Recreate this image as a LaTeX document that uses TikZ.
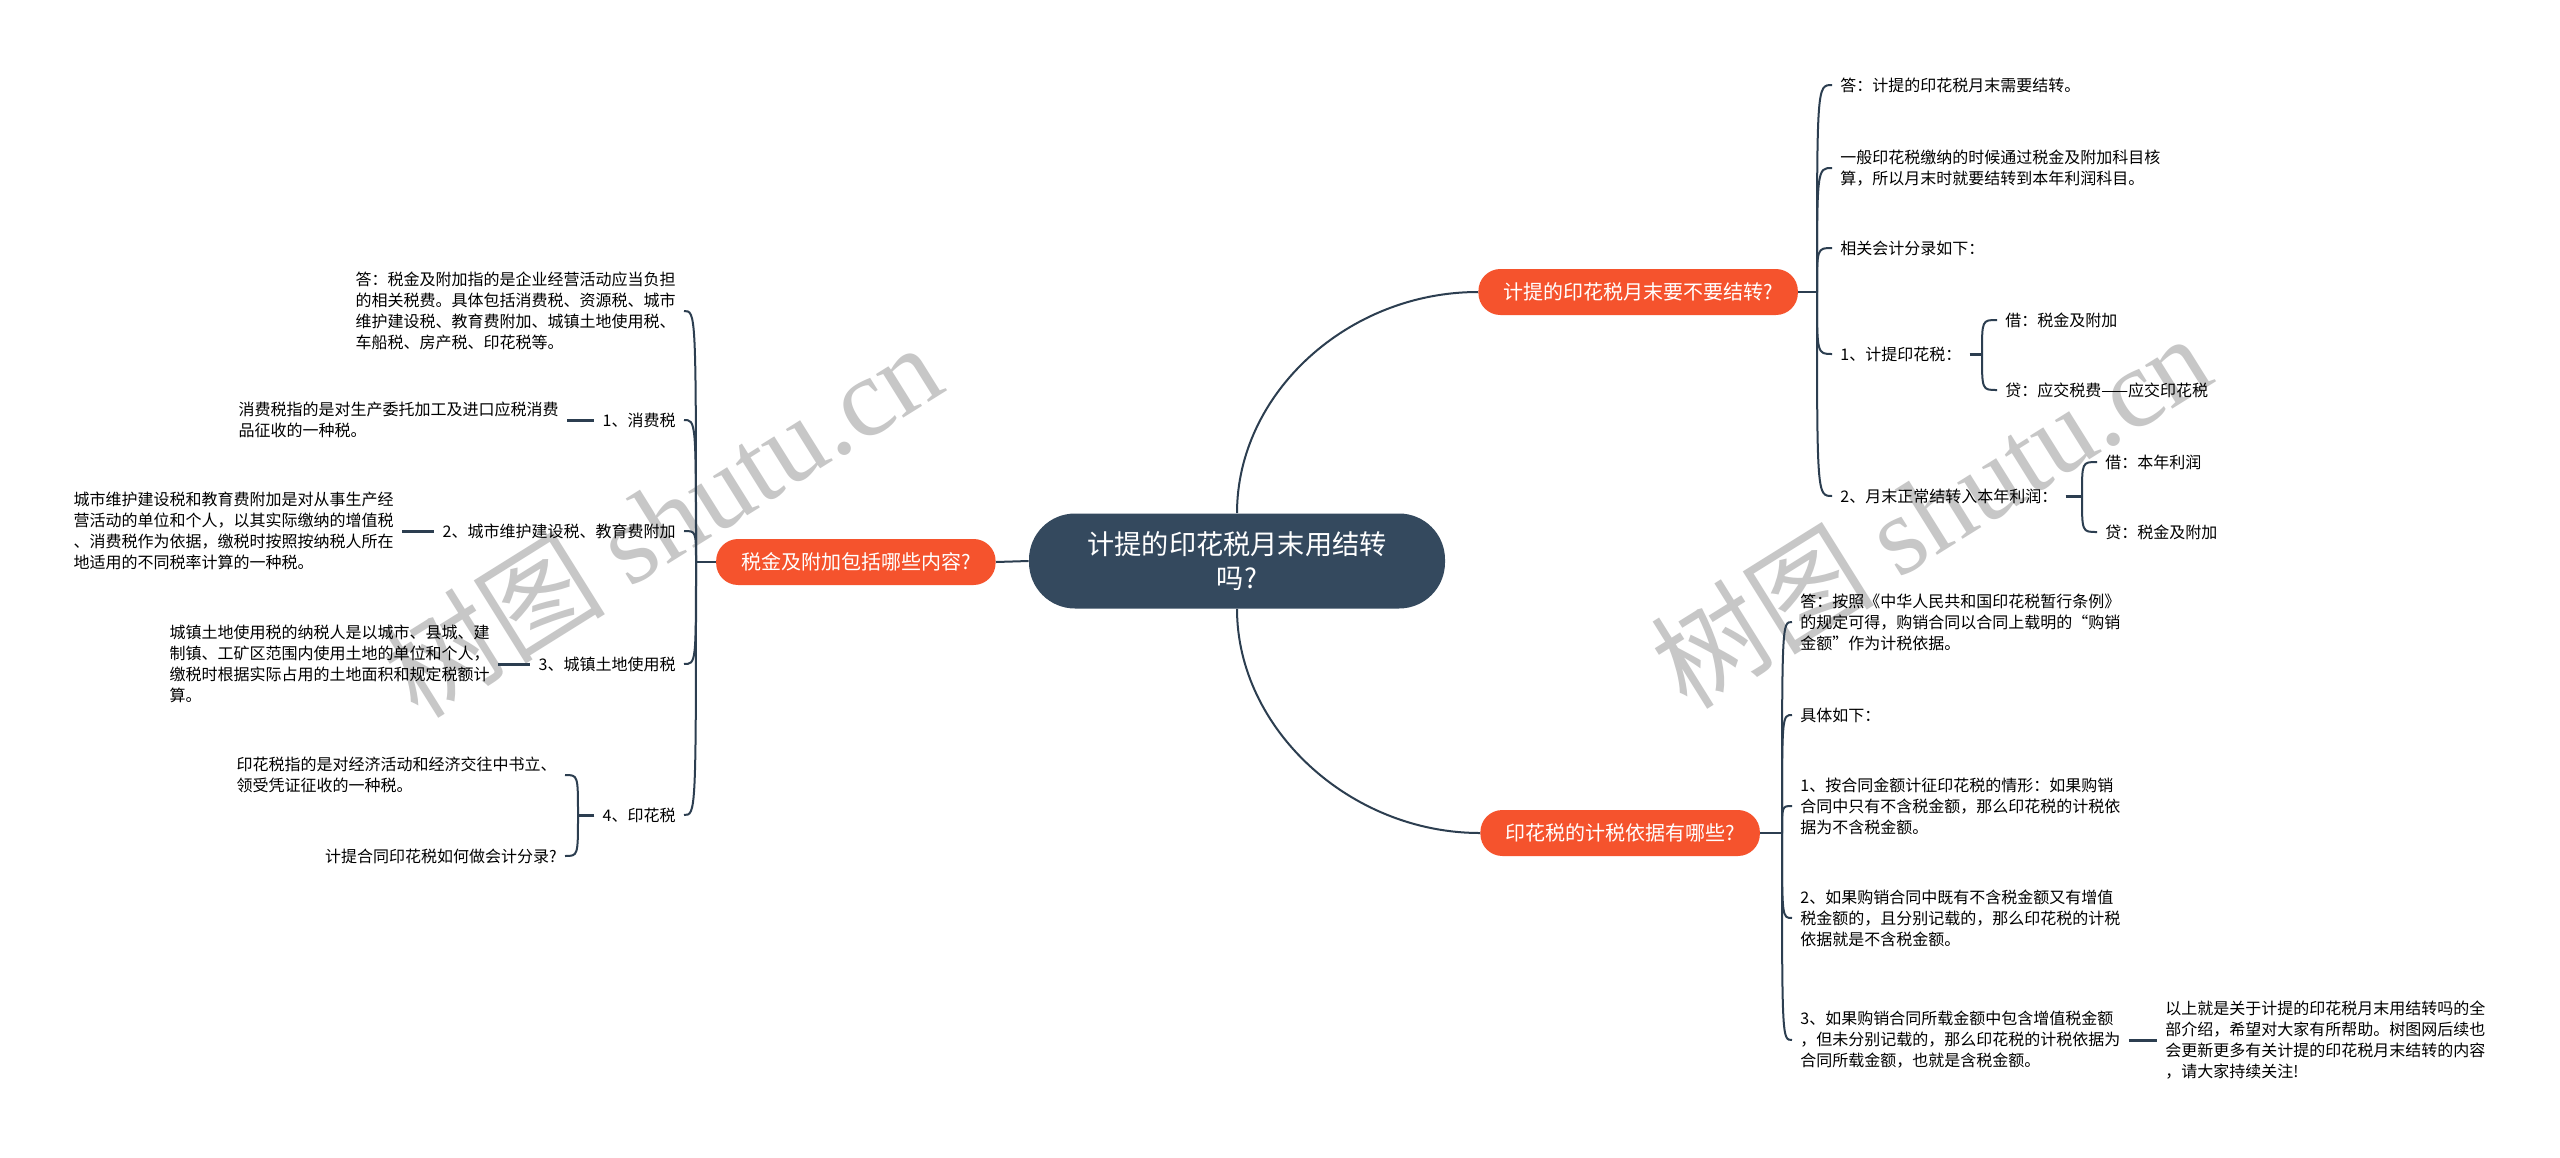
\documentclass[tikz,border=0pt]{standalone}
\usepackage{fontspec}
\setmainfont{Noto Sans CJK SC}
\newfontfamily\wmfont{Liberation Serif}
\usetikzlibrary{positioning}
\definecolor{rootcol}{HTML}{34495E}
\definecolor{branchcol}{HTML}{F5532D}
\definecolor{linecol}{HTML}{2C3E50}
\tikzset{
  root/.style={fill=rootcol, text=white, rounded corners=23pt, minimum width=208pt, minimum height=47.5pt, align=center, font=\fontsize{13.6}{17}\selectfont},
  branch/.style={fill=branchcol, text=white, rounded corners=11pt, minimum height=23pt, inner xsep=12.5pt, font=\fontsize{10}{12}\selectfont},
  leaf/.style={align=left, inner xsep=4pt, inner ysep=1pt, font=\fontsize{8}{10.5}\selectfont},
  link/.style={draw=linecol, line width=1pt},
  stub/.style={draw=linecol, line width=1.5pt},
  wm/.style={text=black!22, rotate=32, font=\fontsize{56}{60}\selectfont}
}

\begin{document}
\begin{tikzpicture}[x=0.5pt, y=-0.5pt]
  \useasboundingbox[fill=white] (0,0) rectangle (2560,1157);
  % 水印
  \node[wm] (wm1) at (661,519) {树图 {\wmfont shutu.cn}};
  \node[wm] (wm2) at (1930,510) {树图 {\wmfont shutu.cn}};

  % 中心主题
  \node[root] (root) at (1237,561) {计提的印花税月末用结转\\吗?};

  % 右上：是否结转
  \node[branch, anchor=west] (bq1) at (1478,292) {计提的印花税月末要不要结转?};
  \coordinate (s1) at (1817,292);
  \node[leaf, anchor=west] (a1) at (1832,85) {答：计提的印花税月末需要结转。};
  \node[leaf, anchor=west] (a2) at (1832,168) {一般印花税缴纳的时候通过税金及附加科目核\\算，所以月末时就要结转到本年利润科目。};
  \node[leaf, anchor=west] (a3) at (1832,248) {相关会计分录如下：};
  \node[leaf, anchor=west] (a4) at (1832,354) {1、计提印花税：};
  \node[leaf, anchor=west] (a5) at (1832,496) {2、月末正常结转入本年利润：};
  \coordinate (j1) at (1982,354);
  \node[leaf, anchor=west] (b1) at (1997,320) {借：税金及附加};
  \node[leaf, anchor=west] (b2) at (1997,390) {贷：应交税费——应交印花税};
  \coordinate (j2) at (2082,496);
  \node[leaf, anchor=west] (b3) at (2097,462) {借：本年利润};
  \node[leaf, anchor=west] (b4) at (2097,532) {贷：税金及附加};

  % 右下：计税依据
  \node[branch, anchor=west] (bq2) at (1480,833) {印花税的计税依据有哪些?};
  \coordinate (s2) at (1782,833);
  \node[leaf, anchor=west] (c1) at (1792,622) {答：按照《中华人民共和国印花税暂行条例》\\的规定可得，购销合同以合同上载明的“购销\\金额”作为计税依据。};
  \node[leaf, anchor=west] (c2) at (1792,715) {具体如下：};
  \node[leaf, anchor=west] (c3) at (1792,806) {1、按合同金额计征印花税的情形：如果购销\\合同中只有不含税金额，那么印花税的计税依\\据为不含税金额。};
  \node[leaf, anchor=west] (c4) at (1792,918) {2、如果购销合同中既有不含税金额又有增值\\税金额的，且分别记载的，那么印花税的计税\\依据就是不含税金额。};
  \node[leaf, anchor=west] (c5) at (1792,1040) {3、如果购销合同所载金额中包含增值税金额\\，但未分别记载的，那么印花税的计税依据为\\合同所载金额，也就是含税金额。};
  \node[leaf, anchor=west] (d1) at (2157,1040) {以上就是关于计提的印花税月末用结转吗的全\\部介绍，希望对大家有所帮助。树图网后续也\\会更新更多有关计提的印花税月末结转的内容\\，请大家持续关注!};

  % 左侧：税金及附加
  \node[branch, anchor=east] (bq3) at (996,562) {税金及附加包括哪些内容?};
  \coordinate (s3) at (696,562);
  \node[leaf, anchor=east] (l1) at (684,311) {答：税金及附加指的是企业经营活动应当负担\\的相关税费。具体包括消费税、资源税、城市\\维护建设税、教育费附加、城镇土地使用税、\\车船税、房产税、印花税等。};
  \node[leaf, anchor=east] (l2) at (684,420) {1、消费税};
  \node[leaf, anchor=east] (l3) at (684,531) {2、城市维护建设税、教育费附加};
  \node[leaf, anchor=east] (l4) at (684,664) {3、城镇土地使用税};
  \node[leaf, anchor=east] (l5) at (684,815) {4、印花税};
  \node[leaf, anchor=east] (m1) at (567,420) {消费税指的是对生产委托加工及进口应税消费\\品征收的一种税。};
  \node[leaf, anchor=east] (m2) at (402,531) {城市维护建设税和教育费附加是对从事生产经\\营活动的单位和个人，以其实际缴纳的增值税\\、消费税作为依据，缴税时按照按纳税人所在\\地适用的不同税率计算的一种税。};
  \node[leaf, anchor=east] (m3) at (498,664) {城镇土地使用税的纳税人是以城市、县城、建\\制镇、工矿区范围内使用土地的单位和个人，\\缴税时根据实际占用的土地面积和规定税额计\\算。};
  \coordinate (j3) at (578,815);
  \node[leaf, anchor=east] (m4) at (565,775) {印花税指的是对经济活动和经济交往中书立、\\领受凭证征收的一种税。};
  \node[leaf, anchor=east] (m5) at (565,856) {计提合同印花税如何做会计分录?};

  % 连线
  \draw[link] (root.north) .. controls +(0,-120) and +(-130,0) .. (bq1.west);
  \draw[link] (root.south) .. controls +(0,120) and +(-130,0) .. (bq2.west);
  \draw[link] (root.west) -- (bq3.east);

  \draw[link] (bq1.east) -- (s1);
  \foreach \n in {a1,a2,a3,a4,a5}
    \draw[link] (s1) .. controls (s1 |- \n.west) .. (\n.west);
  \draw[stub] (a4.east) -- (j1);
  \draw[stub] (a5.east) -- (j2);
  \foreach \n in {b1,b2}
    \draw[link] (j1) .. controls (j1 |- \n.west) .. (\n.west);
  \foreach \n in {b3,b4}
    \draw[link] (j2) .. controls (j2 |- \n.west) .. (\n.west);

  \draw[link] (bq2.east) -- (s2);
  \foreach \n in {c1,c2,c3,c4,c5}
    \draw[link] (s2) .. controls (s2 |- \n.west) .. (\n.west);
  \draw[stub] (c5.east) -- (d1.west);

  \draw[link] (bq3.west) -- (s3);
  \foreach \n in {l1,l2,l3,l4,l5}
    \draw[link] (s3) .. controls (s3 |- \n.east) .. (\n.east);
  \draw[stub] (m1.east) -- (l2.west);
  \draw[stub] (m2.east) -- (l3.west);
  \draw[stub] (m3.east) -- (l4.west);
  \draw[stub] (l5.west) -- (j3);
  \foreach \n in {m4,m5}
    \draw[link] (j3) .. controls (j3 |- \n.east) .. (\n.east);
\end{tikzpicture}
\end{document}
